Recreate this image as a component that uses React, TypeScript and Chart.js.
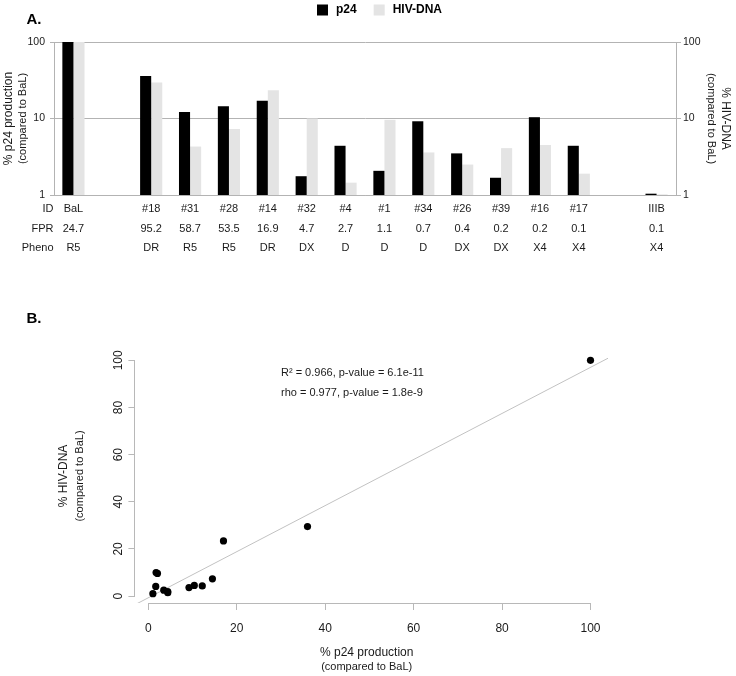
import React, { useEffect, useRef } from "react";
import { Chart, registerables } from "chart.js";

Chart.register(...registerables);

// ---------- data (panel A) ----------
const IDS = ["BaL", "", "#18", "#31", "#28", "#14", "#32", "#4", "#1", "#34", "#26", "#39", "#16", "#17", "", "IIIB"];
const FPR = ["24.7", "", "95.2", "58.7", "53.5", "16.9", "4.7", "2.7", "1.1", "0.7", "0.4", "0.2", "0.2", "0.1", "", "0.1"];
const PHENO = ["R5", "", "DR", "R5", "R5", "DR", "DX", "D", "D", "D", "DX", "DX", "X4", "X4", "", "X4"];
const ROW_HEADERS = ["ID", "FPR", "Pheno"];
const P24 = [100, null, 36, 12.2, 14.5, 17, 1.76, 4.4, 2.07, 9.2, 3.5, 1.68, 10.4, 4.4, null, 1.04];
const HIV_DNA = [100, null, 29.5, 4.3, 7.3, 23.4, 10, 1.45, 9.6, 3.6, 2.5, 4.1, 4.5, 1.9, null, 1.02];
const LOG_TICKS = [1, 10, 100];
const SERIES_NAMES = ["p24", "HIV-DNA"];

// ---------- panel B ----------
const SCATTER_TICKS = [0, 20, 40, 60, 80, 100];
const STATS = ["R\u00b2 = 0.966, p-value = 6.1e-11", "rho = 0.977, p-value = 1.8e-9"];

const FONT = "'Liberation Sans', Arial, Helvetica, sans-serif";
const GRID = "#b3b3b3";
const AXIS_B = "#b8b8b8";
const TEXT = "#1a1a1a";

function vtext(ctx: CanvasRenderingContext2D, text: string, cx: number, cy: number, angle: number, font: string) {
  ctx.save();
  ctx.translate(cx, cy);
  ctx.rotate(angle);
  ctx.font = font;
  ctx.fillStyle = TEXT;
  ctx.textAlign = "center";
  ctx.textBaseline = "middle";
  ctx.fillText(text, 0, 0);
  ctx.restore();
}

const panelAPlugin = {
  id: "panelA",
  afterDraw(chart: any) {
    const { ctx, chartArea: ca } = chart;
    const xs = chart.scales.x;
    ctx.save();
    ctx.fillStyle = "#000";
    ctx.font = `bold 15px ${FONT}`;
    ctx.textAlign = "left";
    ctx.textBaseline = "middle";
    ctx.fillText("A.", 26.5, 20);

    // legend
    let lx = 317;
    ctx.font = `bold 12px ${FONT}`;
    chart.data.datasets.forEach((ds: any) => {
      ctx.fillStyle = ds.backgroundColor;
      ctx.fillRect(lx, 4.5, 11, 11);
      ctx.fillStyle = "#000";
      ctx.fillText(ds.label, lx + 19, 10);
      lx += 19 + ctx.measureText(ds.label).width + 17;
    });

    // row headers
    ctx.font = `11px ${FONT}`;
    ctx.fillStyle = TEXT;
    ctx.textAlign = "right";
    const lh = 19.7;
    const pad = xs.options.ticks.padding;
    ROW_HEADERS.forEach((h, k) => {
      ctx.fillText(h, ca.left - 0.5, xs.top + pad + lh * (k + 0.5));
    });
    ctx.restore();

    const cy = (ca.top + ca.bottom) / 2;
    vtext(ctx, "% p24 production", 9, cy, -Math.PI / 2, `12px ${FONT}`);
    vtext(ctx, "(compared to BaL)", 23.3, cy, -Math.PI / 2, `11px ${FONT}`);
    vtext(ctx, "% HIV-DNA", 725, cy, Math.PI / 2, `12px ${FONT}`);
    vtext(ctx, "(compared to BaL)", 711.5, cy, Math.PI / 2, `11px ${FONT}`);
  },
};

const panelBPlugin = {
  id: "panelB",
  afterDraw(chart: any) {
    const { ctx, chartArea: ca } = chart;
    const { x, y } = chart.scales;
    ctx.save();
    ctx.fillStyle = "#000";
    ctx.font = `bold 15px ${FONT}`;
    ctx.textAlign = "left";
    ctx.textBaseline = "middle";
    ctx.fillText("B.", 26.5, 19);

    // axis lines spanning first..last tick (R style)
    ctx.strokeStyle = AXIS_B;
    ctx.lineWidth = 1;
    const first = SCATTER_TICKS[0];
    const last = SCATTER_TICKS[SCATTER_TICKS.length - 1];
    const yb = Math.round(ca.bottom) + 0.5;
    ctx.beginPath();
    ctx.moveTo(Math.round(x.getPixelForValue(first)) + 0.5, yb);
    ctx.lineTo(Math.round(x.getPixelForValue(last)) + 0.5, yb);
    ctx.stroke();
    const xl = Math.round(ca.left) - 0.5;
    ctx.beginPath();
    ctx.moveTo(xl, Math.round(y.getPixelForValue(first)) + 0.5);
    ctx.lineTo(xl, Math.round(y.getPixelForValue(last)) + 0.5);
    ctx.stroke();

    // stats text
    ctx.fillStyle = TEXT;
    ctx.font = `11px ${FONT}`;
    ctx.fillText(STATS[0], x.getPixelForValue(30), y.getPixelForValue(94.5));
    ctx.fillText(STATS[1], x.getPixelForValue(30), y.getPixelForValue(86));

    // x title
    const cx = (ca.left + ca.right) / 2 - 5;
    ctx.textAlign = "center";
    ctx.font = `12px ${FONT}`;
    ctx.fillText("% p24 production", cx, 352.7);
    ctx.font = `11px ${FONT}`;
    ctx.fillText("(compared to BaL)", cx, 366.7);
    ctx.restore();

    const cy = (ca.top + ca.bottom) / 2 - 1;
    vtext(ctx, "% HIV-DNA", 63.3, cy, -Math.PI / 2, `12px ${FONT}`);
    vtext(ctx, "(compared to BaL)", 80, cy, -Math.PI / 2, `11px ${FONT}`);
  },
};

export default function App() {
  const r1 = useRef<HTMLCanvasElement | null>(null);
  const r2 = useRef<HTMLCanvasElement | null>(null);

  useEffect(() => {
    const logAxis = (position: string, width: number, onArea: boolean, tickLen: number, pad: number) => ({
      type: "logarithmic",
      position,
      min: 1,
      max: 100,
      afterBuildTicks: (s: any) => {
        s.ticks = LOG_TICKS.map((v) => ({ value: v }));
      },
      grid: { display: true, drawOnChartArea: onArea, drawTicks: true, tickLength: tickLen, color: GRID, lineWidth: 1 },
      border: { display: true, color: GRID, width: 1 },
      ticks: { padding: pad, color: TEXT, font: { family: FONT, size: 10.5 }, callback: (v: any) => String(v) },
      afterFit: (s: any) => {
        s.width = width;
        s.paddingTop = 0;
        s.paddingBottom = 0;
      },
    });

    const barChart = new Chart(r1.current as HTMLCanvasElement, {
      type: "bar",
      data: {
        labels: IDS,
        datasets: [
          {
            label: SERIES_NAMES[0],
            data: P24,
            backgroundColor: "#000000",
            borderWidth: 0,
            yAxisID: "y",
            categoryPercentage: 0.57,
            barPercentage: 1,
          },
          {
            label: SERIES_NAMES[1],
            data: HIV_DNA,
            backgroundColor: "#e4e4e4",
            borderWidth: 0,
            yAxisID: "y2",
            categoryPercentage: 0.57,
            barPercentage: 1,
          },
        ],
      } as any,
      options: {
        responsive: false,
        animation: false,
        layout: { padding: { top: 42, left: 0, right: 0, bottom: 0 } },
        plugins: { legend: { display: false }, tooltip: { enabled: false } },
        scales: {
          x: {
            type: "category",
            offset: true,
            grid: { display: false, drawTicks: false },
            border: { display: true, color: GRID, width: 1 },
            ticks: {
              autoSkip: false,
              maxRotation: 0,
              minRotation: 0,
              padding: 4,
              color: TEXT,
              font: { family: FONT, size: 11, lineHeight: 19.7 / 11 },
              callback: (_v: any, i: number) => [IDS[i], FPR[i], PHENO[i]],
            },
            afterFit: (s: any) => {
              s.height = 105;
              s.paddingLeft = 0;
              s.paddingRight = 0;
            },
          },
          y: logAxis("left", 54, true, 4, 5),
          y2: logAxis("right", 60, false, 5, 2),
        } as any,
      },
      plugins: [panelAPlugin],
    });

    // scatter data from the same series
    const pts: { x: number; y: number }[] = [];
    P24.forEach((p, i) => {
      const h = HIV_DNA[i];
      if (p != null && h != null) pts.push({ x: p, y: h });
    });
    const n = pts.length;
    const mx = pts.reduce((s, p) => s + p.x, 0) / n;
    const my = pts.reduce((s, p) => s + p.y, 0) / n;
    let sxy = 0;
    let sxx = 0;
    pts.forEach((p) => {
      sxy += (p.x - mx) * (p.y - my);
      sxx += (p.x - mx) * (p.x - mx);
    });
    const slope = sxy / sxx;
    const icpt = my - slope * mx;
    const xsV = pts.map((p) => p.x);
    const ysV = pts.map((p) => p.y);
    const xLo = Math.min(...xsV);
    const xHi = Math.max(...xsV);
    const yLo = Math.min(...ysV);
    const yHi = Math.max(...ysV);
    const xMin = xLo - 0.04 * (xHi - xLo);
    const xMax = xHi + 0.04 * (xHi - xLo);
    const yMin = yLo - 0.04 * (yHi - yLo);
    const yMax = yHi + 0.04 * (yHi - yLo);

    const scatterChart = new Chart(r2.current as HTMLCanvasElement, {
      type: "scatter",
      data: {
        datasets: [
          {
            type: "scatter",
            data: pts,
            backgroundColor: "#000000",
            borderWidth: 0,
            pointRadius: 3.6,
            order: 1,
          },
          {
            type: "line",
            data: [
              { x: xMin, y: icpt + slope * xMin },
              { x: xMax, y: icpt + slope * xMax },
            ],
            borderColor: "#c2c2c2",
            borderWidth: 1,
            pointRadius: 0,
            fill: false,
            order: 2,
          },
        ],
      } as any,
      options: {
        responsive: false,
        animation: false,
        layout: { padding: { top: 51, left: 0, right: 128, bottom: 0 } },
        plugins: { legend: { display: false }, tooltip: { enabled: false } },
        scales: {
          x: {
            type: "linear",
            min: xMin,
            max: xMax,
            afterBuildTicks: (s: any) => {
              s.ticks = SCATTER_TICKS.map((v) => ({ value: v }));
            },
            grid: { display: true, drawOnChartArea: false, drawTicks: true, tickLength: 7, color: AXIS_B },
            border: { display: false },
            ticks: { padding: 11, color: TEXT, font: { family: FONT, size: 12 }, maxRotation: 0, autoSkip: false },
            afterFit: (s: any) => {
              s.height = 73;
              s.paddingLeft = 0;
              s.paddingRight = 0;
            },
          },
          y: {
            type: "linear",
            min: yMin,
            max: yMax,
            afterBuildTicks: (s: any) => {
              s.ticks = SCATTER_TICKS.map((v) => ({ value: v }));
            },
            grid: { display: true, drawOnChartArea: false, drawTicks: true, tickLength: 7, color: AXIS_B },
            border: { display: false },
            ticks: {
              padding: 0,
              crossAlign: "center",
              minRotation: 90,
              maxRotation: 90,
              color: TEXT,
              font: { family: FONT, size: 12 },
              autoSkip: false,
            },
            afterFit: (s: any) => {
              s.width = 135.4;
              s.paddingTop = 0;
              s.paddingBottom = 0;
            },
          },
        } as any,
      },
      plugins: [panelBPlugin],
    });

    return () => {
      barChart.destroy();
      scatterChart.destroy();
    };
  }, []);

  return (
    <div style={{ position: "absolute", left: 0, top: 0, width: 736, height: 676, background: "#fff" }}>
      <canvas ref={r1} width={736} height={300} style={{ display: "block", width: 736, height: 300 }} />
      <canvas ref={r2} width={736} height={376} style={{ display: "block", width: 736, height: 376 }} />
    </div>
  );
}
